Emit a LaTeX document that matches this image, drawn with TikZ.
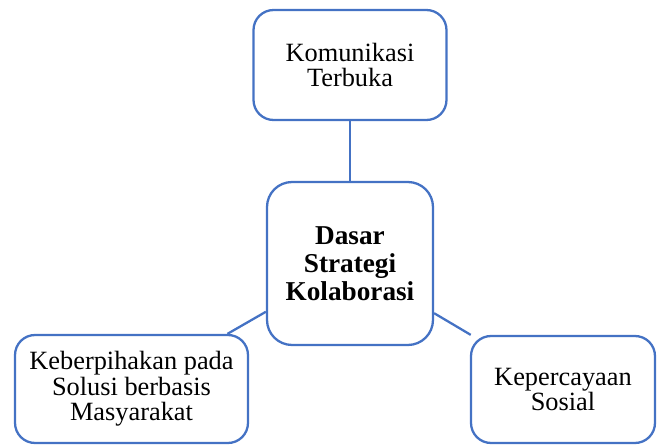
\documentclass[tikz,border=0pt]{standalone}
\usepackage{fontspec}
\setmainfont{Liberation Serif}
\usetikzlibrary{shapes.geometric}
\definecolor{boxblue}{RGB}{68,114,196}
\tikzstyle{idea} = [rectangle, rounded corners=0.4cm, draw=boxblue, line width=1.3pt, fill=white, align=center, font=\fontsize{15}{14.5}\selectfont]
\tikzstyle{core} = [idea, rounded corners=0.5cm, font=\fontsize{15.5}{16}\selectfont\bfseries]
\tikzstyle{link} = [draw=boxblue, line width=1.3pt]

\begin{document}
\begin{tikzpicture}[x=0.02cm, y=-0.02cm]
            \useasboundingbox (0,0) rectangle (657,446);
            \node [core, minimum width=3.32cm, minimum height=3.26cm] at (350,263.5) (dasar) {Dasar\\Strategi\\Kolaborasi};
            \node [idea, minimum width=3.86cm, minimum height=2.2cm] at (350,65) (komunikasi) {Komunikasi\\Terbuka};
            \node [idea, minimum width=4.66cm, minimum height=2.16cm] at (131.5,389) (keberpihakan) {Keberpihakan pada\\Solusi berbasis\\Masyarakat};
            \node [idea, minimum width=3.68cm, minimum height=2.14cm] at (563,389.5) (kepercayaan) {Kepercayaan\\Sosial};
            \draw [link] (dasar) -- (komunikasi);
            \draw [link] (dasar) -- (keberpihakan);
            \draw [link] (dasar) -- (kepercayaan);
            \end{tikzpicture}
\end{document}
